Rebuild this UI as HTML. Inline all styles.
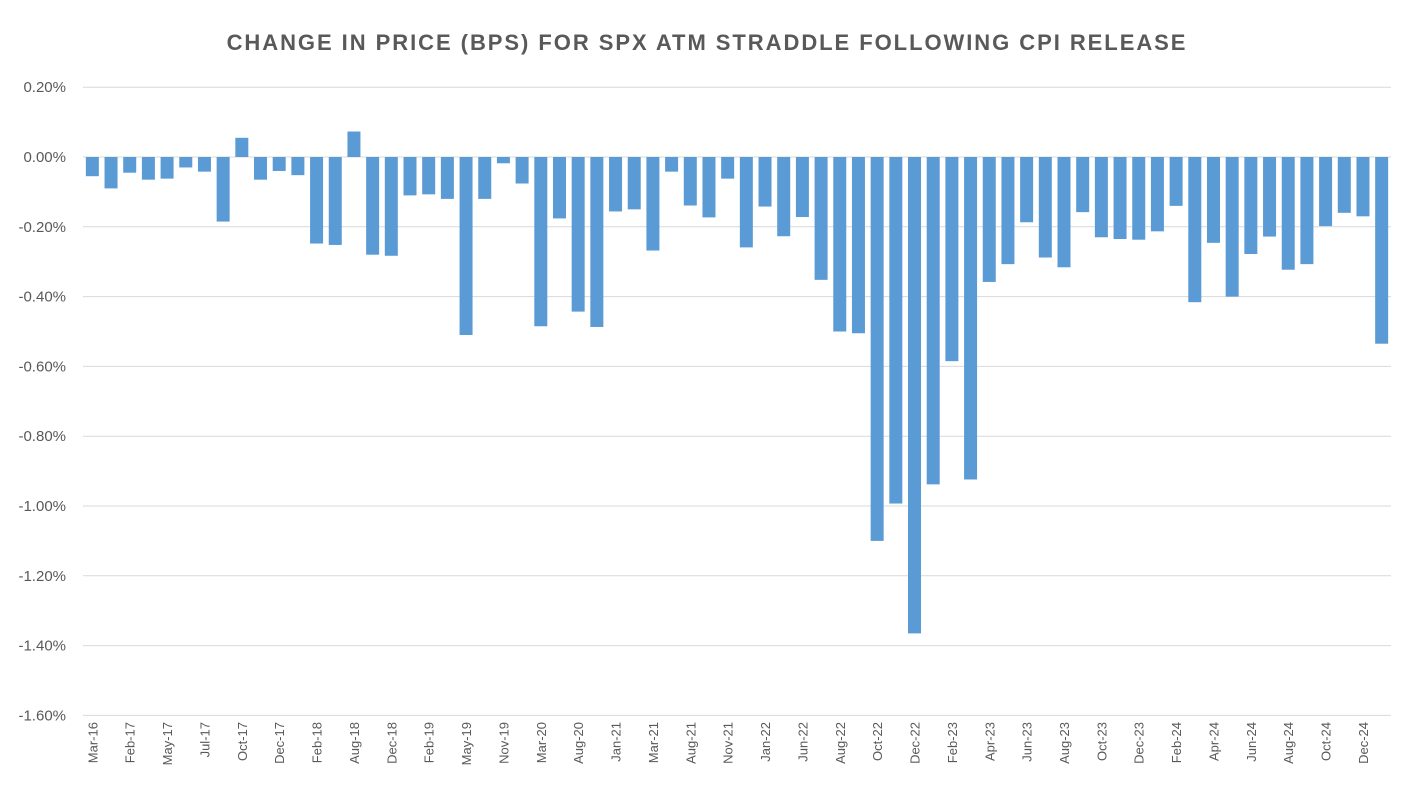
<!DOCTYPE html>
<html><head><meta charset="utf-8"><style>
body{margin:0;background:#fff;font-family:"Liberation Sans",sans-serif}
svg text{font-family:"Liberation Sans",sans-serif;fill:#595959}
</style></head><body>
<svg id="c" width="1414" height="799">
<text x="707" y="50" text-anchor="middle" font-size="22" font-weight="bold" letter-spacing="1.95">CHANGE IN PRICE (BPS) FOR SPX ATM STRADDLE FOLLOWING CPI RELEASE</text>
<g id="grid"></g><g id="bars"></g><g id="yl"></g><g id="xl"></g>
</svg>
<script>
const labels=["Mar-16","Feb-17","May-17","Jul-17","Oct-17","Dec-17","Feb-18","Aug-18","Dec-18","Feb-19","May-19","Nov-19","Mar-20","Aug-20","Jan-21","Mar-21","Aug-21","Nov-21","Jan-22","Jun-22","Aug-22","Oct-22","Dec-22","Feb-23","Apr-23","Jun-23","Aug-23","Oct-23","Dec-23","Feb-24","Apr-24","Jun-24","Aug-24","Oct-24","Dec-24"];
const values=[-0.055,-0.09,-0.045,-0.065,-0.062,-0.03,-0.042,-0.185,0.055,-0.065,-0.04,-0.052,-0.248,-0.252,0.073,-0.28,-0.283,-0.11,-0.107,-0.12,-0.51,-0.12,-0.018,-0.076,-0.485,-0.176,-0.443,-0.487,-0.156,-0.15,-0.268,-0.042,-0.139,-0.173,-0.062,-0.259,-0.142,-0.227,-0.172,-0.352,-0.5,-0.505,-1.10,-0.993,-1.365,-0.938,-0.585,-0.924,-0.358,-0.307,-0.187,-0.288,-0.316,-0.158,-0.23,-0.235,-0.237,-0.213,-0.14,-0.416,-0.246,-0.4,-0.278,-0.228,-0.323,-0.307,-0.198,-0.16,-0.17,-0.535];
const yTicks=[0.2,0,-0.2,-0.4,-0.6,-0.8,-1.0,-1.2,-1.4,-1.6];
const NS="http://www.w3.org/2000/svg";
const X0=83,X1=1391,band=(X1-X0)/values.length;
const y=v=>157-(v)*349;
const x=i=>X0+i*band;
function mk(t,a,p){const e=document.createElementNS(NS,t);for(const k in a)e.setAttribute(k,a[k]);document.getElementById(p).appendChild(e);return e;}
yTicks.forEach(t=>{
  const l=mk('line',{x1:X0,x2:X1,y1:y(t),y2:y(t),stroke:'#d9d9d9','stroke-width':1},'grid');
  
  
  const tx=mk('text',{x:66,y:y(t)+5,'text-anchor':'end','font-size':15},'yl');
  tx.textContent=t.toFixed(2)+'%';
  
  
});
values.forEach((v,i)=>{
  const r=mk('rect',{x:x(i)+(band-13)/2,y:Math.min(y(v),y(0)),width:13,height:Math.abs(y(v)-y(0)),fill:'#5b9bd5'},'bars');
  
  
});
labels.forEach((s,j)=>{
  const cx=x(j*2)+band/2+5;
  const t=mk('text',{x:cx,y:722,'font-size':13,'text-anchor':'end',transform:`rotate(-90 ${cx} 722)`},'xl');
  t.textContent=s;
  
  
});
</script>
</body></html>
